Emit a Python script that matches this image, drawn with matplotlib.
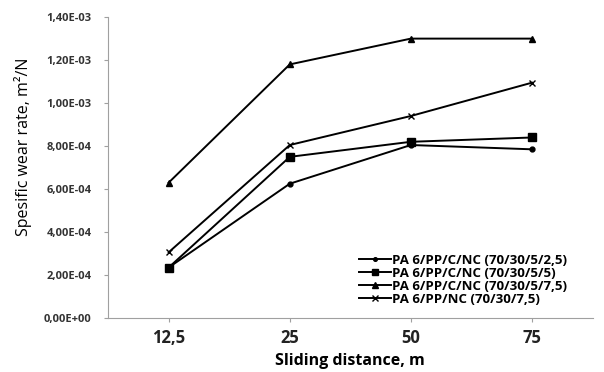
import matplotlib.pyplot as plt
from matplotlib.ticker import FuncFormatter, MultipleLocator

distances = ['12,5', '25', '50', '75']
s_25 = [2.35e-4, 6.25e-4, 8.05e-4, 7.85e-4]
s_5 = [2.35e-4, 7.5e-4, 8.2e-4, 8.4e-4]
s_75 = [6.3e-4, 1.18e-3, 1.30e-3, 1.30e-3]
s_nc = [3.06e-4, 8.05e-4, 9.4e-4, 1.095e-3]
labels = ['PA 6/PP/C/NC (70/30/5/2,5)', 'PA 6/PP/C/NC (70/30/5/5)',
          'PA 6/PP/C/NC (70/30/5/7,5)', 'PA 6/PP/NC (70/30/7,5)']

plt.rcParams['font.family'] = ['Open Sans', 'DejaVu Sans']

fig = plt.figure(figsize=(6.04, 3.72), dpi=100)
ax = fig.add_axes([0.179, 0.145, 0.802, 0.809])
x = range(len(distances))

ax.plot(x, s_25, color='black', lw=1.4, marker='o', ms=3.5, label=labels[0])
ax.plot(x, s_5, color='black', lw=1.4, marker='s', ms=6, label=labels[1])
ax.plot(x, s_75, color='black', lw=1.4, marker='^', ms=5, label=labels[2])
ax.plot(x, s_nc, color='black', lw=1.4, marker='x', ms=5, mew=1, label=labels[3])

ax.set_xlim(-0.5, 3.5)
ax.set_ylim(0, 1.4e-3)
ax.yaxis.set_major_locator(MultipleLocator(2e-4))

def fmt(v, pos):
    s = '%.2E' % v
    return s.replace('.', ',')

ax.yaxis.set_major_formatter(FuncFormatter(fmt))
ax.set_xticks(list(x))
ax.set_xticklabels(distances, fontsize=12, fontweight='bold')
for t in ax.get_yticklabels():
    t.set_fontsize(8)
    t.set_fontweight('bold')

for side in ['top', 'right']:
    ax.spines[side].set_visible(False)
for side in ['left', 'bottom']:
    ax.spines[side].set_color('#a0a0a0')
ax.tick_params(axis='both', colors='#a0a0a0', length=3, width=0.8)
ax.tick_params(axis='x', labelcolor='#222222', pad=5)
ax.tick_params(axis='y', labelcolor='#333333', pad=9)

ax.set_xlabel('Sliding distance, m', fontsize=11.5, fontweight='bold', labelpad=4)
ax.set_ylabel('Spesific wear rate, m²/N', fontsize=11.5)
ax.yaxis.set_label_coords(-0.158, 0.57)

ax.legend(loc='lower right', bbox_to_anchor=(0.947, 0.04), frameon=False,
          borderaxespad=0, borderpad=0,
          prop={'size': 9.5, 'weight': 'bold'}, handlelength=2.4,
          handletextpad=0.1, labelspacing=0.0, markerscale=0.75)

fig.savefig('out.png', dpi=100)
